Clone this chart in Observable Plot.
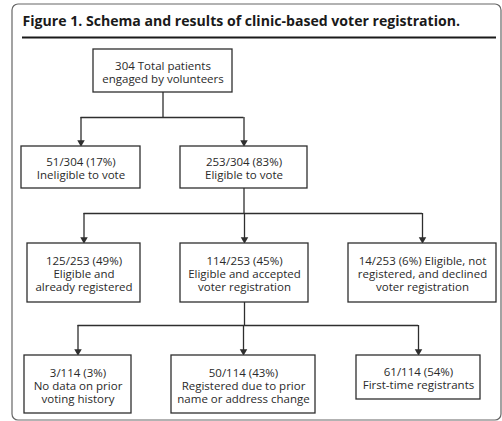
<!DOCTYPE html>
<html>
<head>
<meta charset="utf-8">
<script src="https://cdn.jsdelivr.net/npm/d3@7"></script>
<script src="https://cdn.jsdelivr.net/npm/@observablehq/plot@0.6"></script>
<style>
  html, body { margin: 0; padding: 0; background: #fff; }
  svg { display: block; }
</style>
</head>
<body>
<div id="chart"></div>
<script>
// ---- Data ----
const titleText = "Figure 1. Schema and results of clinic-based voter registration.";
const boxLabels = [
  "304 Total patients\nengaged by volunteers",
  "51/304 (17%)\nIneligible to vote",
  "253/304 (83%)\nEligible to vote",
  "125/253 (49%)\nEligible and\nalready registered",
  "114/253 (45%)\nEligible and accepted\nvoter registration",
  "14/253 (6%) Eligible, not\nregistered, and declined\nvoter registration",
  "3/114 (3%)\nNo data on prior\nvoting history",
  "50/114 (43%)\nRegistered due to prior\nname or address change",
  "61/114 (54%)\nFirst-time registrants"
];
const parentIndex = [null, 0, 0, 2, 2, 2, 4, 4, 4];
const levelIndex = [0, 1, 1, 2, 2, 2, 3, 3, 3];

// ---- Layout (diagram geometry, kept apart from the data) ----
const boxX1 = [93, 21, 180, 27, 180, 348, 24, 171, 356];
const boxX2 = [232, 140, 307, 140, 308, 496, 131, 315, 480];
const boxY1 = [49, 146, 146, 243, 243, 243, 355, 355, 355];
const boxY2 = [92, 188, 188, 302, 302, 302, 413, 413, 399];
const busY = [null, 117, 213, 325];
const frame = {x1: 12, x2: 501, y1: 4, y2: 420};
const titlePos = {x: 22, y: 21, ruleY: 37, ruleX1: 22, ruleX2: 496};

const nodes = boxLabels.map((label, i) => ({
  label, parent: parentIndex[i], level: levelIndex[i],
  x1: boxX1[i], x2: boxX2[i], y1: boxY1[i], y2: boxY2[i],
  cx: (boxX1[i] + boxX2[i]) / 2
}));
const children = nodes.filter(d => d.parent !== null);
const parents = Array.from(new Set(children.map(d => d.parent))).map(p => {
  const kids = children.filter(c => c.parent === p);
  return {p: nodes[p], kids, bus: busY[kids[0].level]};
});

const stems = parents.map(g => ({x: g.p.cx, y1: g.p.y2, y2: g.bus}));
const buses = parents.map(g => ({y: g.bus, x1: d3.min(g.kids, k => k.cx), x2: d3.max(g.kids, k => k.cx)}));
const drops = children.map(c => ({x: c.cx, y1: busY[c.level], y2: c.y1 - 2}));

const ink = "#2e2e2e";
const font = "'Open Sans', Lato, sans-serif";

const chart = Plot.plot({
  width: 502,
  height: 421,
  margin: 0,
  x: {domain: [0, 502], range: [0, 502], axis: null},
  y: {domain: [0, 421], range: [0, 421], axis: null},
  style: {background: "#fff", fontFamily: font},
  marks: [
    Plot.rect([frame], {x1: "x1", x2: "x2", y1: "y1", y2: "y2", rx: 6, fill: "none", stroke: "#666", strokeWidth: 1.2}),
    Plot.text([titleText], {x: titlePos.x, y: titlePos.y, text: d => d, textAnchor: "start", lineAnchor: "middle",
      fontSize: 14.1, fontWeight: "bold", fill: "#1a1a1a", fontFamily: font}),
    Plot.ruleY([titlePos.ruleY], {x1: titlePos.ruleX1, x2: titlePos.ruleX2, stroke: "#1a1a1a", strokeWidth: 2}),
    Plot.ruleX(stems, {x: "x", y1: "y1", y2: "y2", stroke: ink, strokeWidth: 1.3}),
    Plot.ruleY(buses, {y: "y", x1: "x1", x2: "x2", stroke: ink, strokeWidth: 1.3}),
    Plot.ruleX(drops, {x: "x", y1: "y1", y2: "y2", stroke: ink, strokeWidth: 1.3}),
    Plot.dot(children, {x: "cx", y: d => d.y1 - 4, symbol: "triangle", r: 2.8, rotate: 180, fill: ink, stroke: "none"}),
    Plot.rect(nodes, {x1: "x1", x2: "x2", y1: "y1", y2: "y2", fill: "#fff", stroke: ink, strokeWidth: 1.3}),
    Plot.text(nodes, {x: "cx", y: d => (d.y1 + d.y2) / 2 + 1, text: "label", lineAnchor: "middle",
      fontSize: 11.5, lineHeight: 1.13, fill: "#2a2a2a", fontFamily: font})
  ]
});
document.getElementById("chart").append(chart);
</script>
</body>
</html>
